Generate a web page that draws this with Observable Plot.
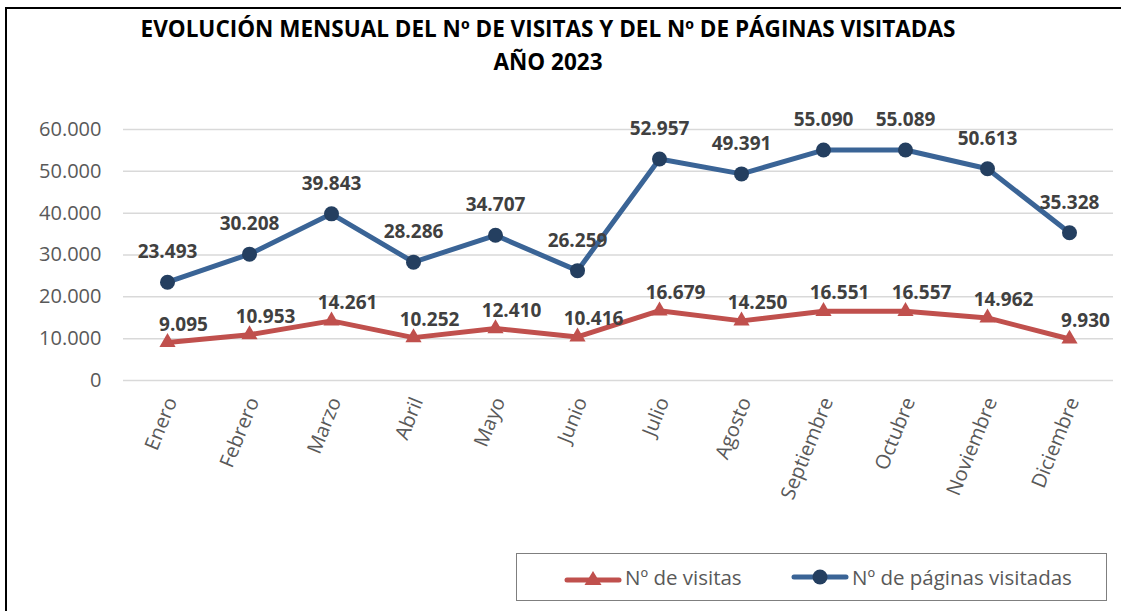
<!DOCTYPE html>
<html><head><meta charset="utf-8">
<script src="https://cdn.jsdelivr.net/npm/d3@7"></script>
<script src="https://cdn.jsdelivr.net/npm/@observablehq/plot@0.6"></script>
<style>
body{margin:0;background:#fff;font-family:"Open Sans",sans-serif;width:1121px;height:611px;overflow:hidden;position:relative}
#frame{position:absolute;left:5px;top:7px;width:1300px;height:800px;border-left:2px solid #000;border-top:2px solid #000;}
#title{position:absolute;left:0;width:1096px;top:12px;text-align:center;font-weight:bold;font-size:22.5px;line-height:33px;color:#000}
#chart{position:absolute;left:0;top:0}
#legend{position:absolute;left:516px;top:553px;width:591px;height:48px;border:1.5px solid #7f7f7f;box-sizing:border-box;font-size:20.5px;color:#595959}
.item{position:absolute;top:0;height:45px;display:flex;align-items:center;gap:3px}
</style></head><body>
<div id="frame"></div>
<div id="title">EVOLUCIÓN MENSUAL DEL Nº DE VISITAS Y DEL Nº DE PÁGINAS VISITADAS<br>AÑO 2023</div>
<div id="chart"></div>
<div id="legend">
  <div class="item" style="left:47px"><svg width="58" height="20"><line x1="3" x2="55" y1="13" y2="13" stroke="#c0504d" stroke-width="5" stroke-linecap="round"/><path d="M29,4 L37.5,18 L20.5,18 Z" fill="#c0504d"/></svg><span>Nº de visitas</span></div>
  <div class="item" style="left:274px"><svg width="58" height="20"><line x1="3" x2="55" y1="10" y2="10" stroke="#3a6496" stroke-width="5" stroke-linecap="round"/><circle cx="29" cy="10" r="7.5" fill="#243f60"/></svg><span>Nº de páginas visitadas</span></div>
</div>
<script>
const months = ["Enero","Febrero","Marzo","Abril","Mayo","Junio","Julio","Agosto","Septiembre","Octubre","Noviembre","Diciembre"];
const visitas = [9095,10953,14261,10252,12410,10416,16679,14250,16551,16557,14962,9930];
const paginas = [23493,30208,39843,28286,34707,26259,52957,49391,55090,55089,50613,35328];
const yTicks = [0,10000,20000,30000,40000,50000,60000];

const fmt = d => d3.format(",")(d).replace(/,/g, ".");
const vis = months.map((m,i) => ({month:m, value:visitas[i]}));
const pag = months.map((m,i) => ({month:m, value:paginas[i]}));

const chart = Plot.plot({
  width:1121, height:540,
  marginLeft:123, marginRight:8, marginTop:129, marginBottom:160,
  style:{fontFamily:"'Open Sans', sans-serif", background:"transparent", overflow:"visible"},
  x:{type:"point", domain:months, padding:0.5},
  y:{domain:[0,60000]},
  marks:[
    Plot.ruleY(yTicks, {stroke:"#d9d9d9", strokeWidth:1.5}),
    Plot.axisY({ticks:yTicks, tickSize:0, tickPadding:22, tickFormat:fmt, fontSize:20, fill:"#595959", label:null}),
    Plot.axisX({tickSize:0, tickPadding:18, tickRotate:-68, fontSize:20, fill:"#595959", label:null, dx:4}),
    Plot.line(pag, {x:"month", y:"value", stroke:"#3a6496", strokeWidth:5}),
    Plot.dot(pag, {x:"month", y:"value", r:7.5, fill:"#243f60"}),
    Plot.line(vis, {x:"month", y:"value", stroke:"#c0504d", strokeWidth:5}),
    Plot.dot(vis, {x:"month", y:"value", r:6, symbol:"triangle", fill:"#c0504d"}),
    Plot.text(pag, {x:"month", y:"value", text:d=>fmt(d.value), dy:-30, fontSize:19, fontWeight:"bold", fill:"#404040"}),
    Plot.text(vis, {x:"month", y:"value", text:d=>fmt(d.value), dy:-18, dx:16, fontSize:19, fontWeight:"bold", fill:"#404040"})
  ]
});
document.getElementById("chart").appendChild(chart);
</script>
</body></html>
